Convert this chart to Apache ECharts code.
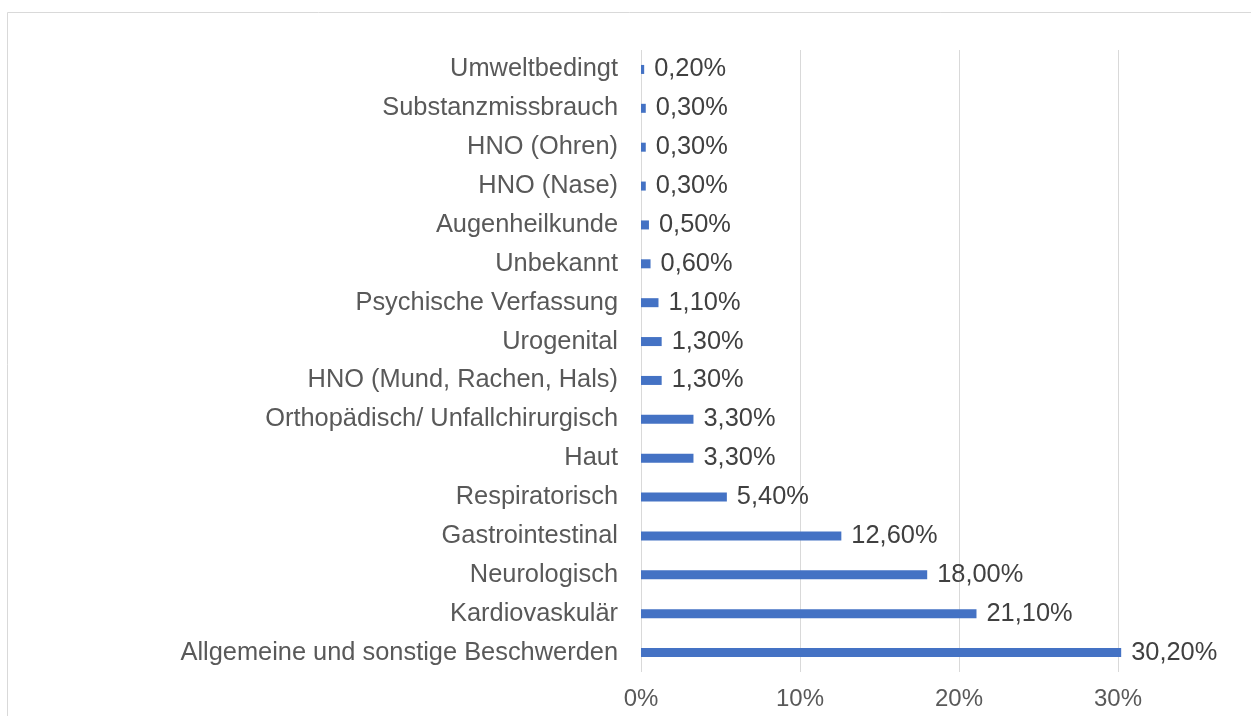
<!DOCTYPE html>
<html>
<head>
<meta charset="utf-8">
<script src="https://cdn.jsdelivr.net/npm/echarts@6/dist/echarts.min.js"></script>
<style>
html,body{margin:0;padding:0;background:#fff;}
#chart{width:1251px;height:716px;}
</style>
</head>
<body>
<div id="chart"></div>
<script>
const categories = [
  "Allgemeine und sonstige Beschwerden",
  "Kardiovaskulär",
  "Neurologisch",
  "Gastrointestinal",
  "Respiratorisch",
  "Haut",
  "Orthopädisch/ Unfallchirurgisch",
  "HNO (Mund, Rachen, Hals)",
  "Urogenital",
  "Psychische Verfassung",
  "Unbekannt",
  "Augenheilkunde",
  "HNO (Nase)",
  "HNO (Ohren)",
  "Substanzmissbrauch",
  "Umweltbedingt"
];
const values = [30.2, 21.1, 18.0, 12.6, 5.4, 3.3, 3.3, 1.3, 1.3, 1.1, 0.6, 0.5, 0.3, 0.3, 0.3, 0.2];
const axisMin = 0;
const axisMax = 40;
const axisInterval = 10;

const FONT = '"Liberation Sans", Arial, sans-serif';
const chart = echarts.init(document.getElementById('chart'), null, {renderer: 'canvas'});
chart.setOption({
  backgroundColor: '#ffffff',
  animation: false,
  graphic: [{
    type: 'rect',
    left: 5, top: 10,
    shape: {width: 1400, height: 900},
    style: {fill: 'none', stroke: '#d9d9d9', lineWidth: 1},
    silent: true,
    z: -1
  }],
  grid: {left: 641, right: -26, top: 50, bottom: 44, containLabel: false, outerBoundsMode: 'none'},
  xAxis: {
    type: 'value',
    min: axisMin, max: axisMax, interval: axisInterval,
    axisLine: {show: false},
    axisTick: {show: false},
    splitLine: {show: true, lineStyle: {color: '#d9d9d9', width: 1}},
    axisLabel: {
      formatter: v => v + '%',
      color: '#595959', fontSize: 24, fontFamily: FONT, margin: 15
    }
  },
  yAxis: {
    type: 'category',
    data: categories,
    axisLine: {show: false},
    axisTick: {show: false},
    splitLine: {show: false},
    axisLabel: {color: '#595959', fontSize: 25.4, fontFamily: FONT, margin: 23, padding: [6, 0, 0, 0]}
  },
  series: [{
    type: 'bar',
    data: values,
    barWidth: 9,
    itemStyle: {color: '#4472c4'},
    label: {
      show: true, position: 'right', distance: 10,
      color: '#404040', fontSize: 25.4, fontFamily: FONT, padding: [6, 0, 0, 0],
      formatter: p => p.value.toFixed(2).replace('.', ',') + '%'
    }
  }]
});
</script>
</body>
</html>
